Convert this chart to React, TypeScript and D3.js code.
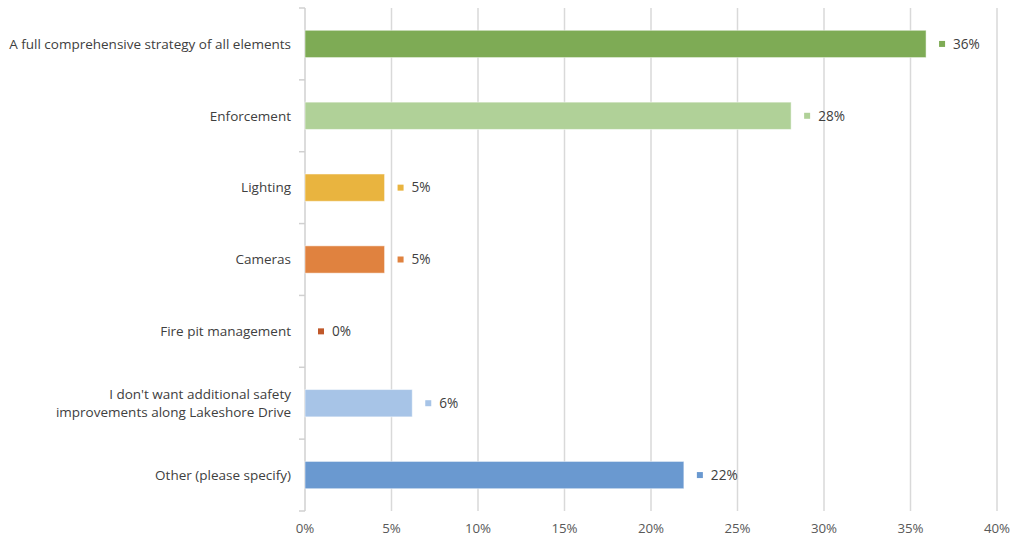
import React from "react";
import * as d3 from "d3";

const categories = [
  "A full comprehensive strategy of all elements",
  "Enforcement",
  "Lighting",
  "Cameras",
  "Fire pit management",
  "I don't want additional safety|improvements along Lakeshore Drive",
  "Other (please specify)",
];
const values = [35.9, 28.1, 4.6, 4.6, 0, 6.2, 21.9];
const valueLabels = ["36%", "28%", "5%", "5%", "0%", "6%", "22%"];
const colors = ["#7eab55", "#b0d198", "#e9b43f", "#e0823f", "#c0582a", "#a7c4e7", "#6a99d0"];
const ticks = [0, 5, 10, 15, 20, 25, 30, 35, 40];

const W = 1014;
const H = 537;
const FONT = "'Open Sans', sans-serif";

export default function App() {
  const x = d3.scaleLinear().domain([0, 40]).range([305, 997]);
  const y = d3.scaleBand<string>().domain(categories).range([8, 511]).paddingInner(0.62).paddingOuter(0.31);
  const step = y.step();
  const boundaries = d3.range(categories.length + 1).map((i) => 8 + i * step);

  return (
    <svg width={W} height={H} style={{ position: "absolute", left: 0, top: 0, background: "#fff" }} fontFamily={FONT}>
      {ticks.slice(1).map((t) => (
        <line key={t} x1={x(t)} x2={x(t)} y1={8} y2={511} stroke="#d9d9d9" strokeWidth={1.5} />
      ))}
      <line x1={x(0)} x2={x(0)} y1={8} y2={511} stroke="#d0d0d0" strokeWidth={1.5} />
      {boundaries.map((b, i) => (
        <line key={i} x1={x(0) - 6} x2={x(0)} y1={b} y2={b} stroke="#d0d0d0" strokeWidth={1.5} />
      ))}
      {categories.map((c, i) => {
        const yy = y(c)!;
        const cy = yy + y.bandwidth() / 2;
        const end = x(values[i]);
        const lines = c.split("|");
        return (
          <g key={c}>
            {values[i] > 0 && (
              <rect x={x(0)} y={yy} width={end - x(0)} height={y.bandwidth()} fill={colors[i]} stroke="#ffffff" strokeOpacity={0.5} strokeWidth={1} />
            )}
            <rect x={end + 13} y={cy - 3} width={6} height={6} fill={colors[i]} />
            <text x={end + 27} y={cy} dy="0.35em" fontSize={13.6} fill="#404040">
              {valueLabels[i]}
            </text>
            {lines.map((l, k) => (
              <text
                key={k}
                x={291}
                y={cy + (k - (lines.length - 1) / 2) * 18}
                dy="0.35em"
                textAnchor="end"
                fontSize={13.5}
                fill="#404040"
              >
                {l}
              </text>
            ))}
          </g>
        );
      })}
      {ticks.map((t) => (
        <text key={t} x={x(t)} y={528} dy="0.35em" textAnchor="middle" fontSize={13.3} fill="#595959">
          {t}%
        </text>
      ))}
    </svg>
  );
}
